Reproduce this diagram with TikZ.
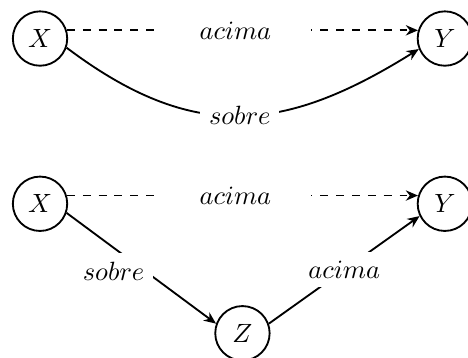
\documentclass[tikz,border=0pt]{standalone}
\usetikzlibrary{arrows.meta}
\begin{document}
\begin{tikzpicture}[
  line width=0.7pt,
  state/.style={draw, circle, inner sep=0pt, minimum size=20.6pt},
  lbl/.style={fill=white, inner sep=3.3pt},
  widelbl/.style={lbl, inner xsep=15pt}
]


% GLOBAL SETTINGS
\newcommand{\acimalbl}{\(acima\)}
\newcommand{\sobrelbl}{\(sobre\)}

% SHARED CODE
\newlength{\xdist}
\setlength{\xdist}{5.39cm}
\newlength{\ydist}
\setlength{\ydist}{2.2cm}
\pgfkeys{/tikz/every path/.style={-{Stealth[length=4.6pt, width=3.9pt]}}} % draw arrowheads
\useasboundingbox (0,0) rectangle (6.231,-4.766);
% X and Y, two rows
\path (0.533,-0.513) foreach \j in {1,2} {
node[state] (X\j) {\(X\)}
+(\xdist,0) node[state] (Y\j) {\(Y\)}
++(0,-\ydist)
};
% Z
\path (X2) +(0.5\xdist,-1.724cm) node[state] (Z) {\(Z\)};

% EDGES
\foreach \j in {1,2} {
\draw[dashed] (X\j.17) -- node[widelbl, pos=0.48] {\acimalbl} (Y\j.163) ;
}
\draw (X1.-19) to[out=-37, in=-148, looseness=1.15] node[lbl] {\sobrelbl} (Y1.-158) ;
%
\draw (X2.-19) -- node[lbl, xshift=-10.5pt, yshift=-1pt] {\sobrelbl} (Z.160) ;
\draw (Z.20) -- node[lbl] {\acimalbl} (Y2.-154) ;

\end{tikzpicture}
\end{document}
